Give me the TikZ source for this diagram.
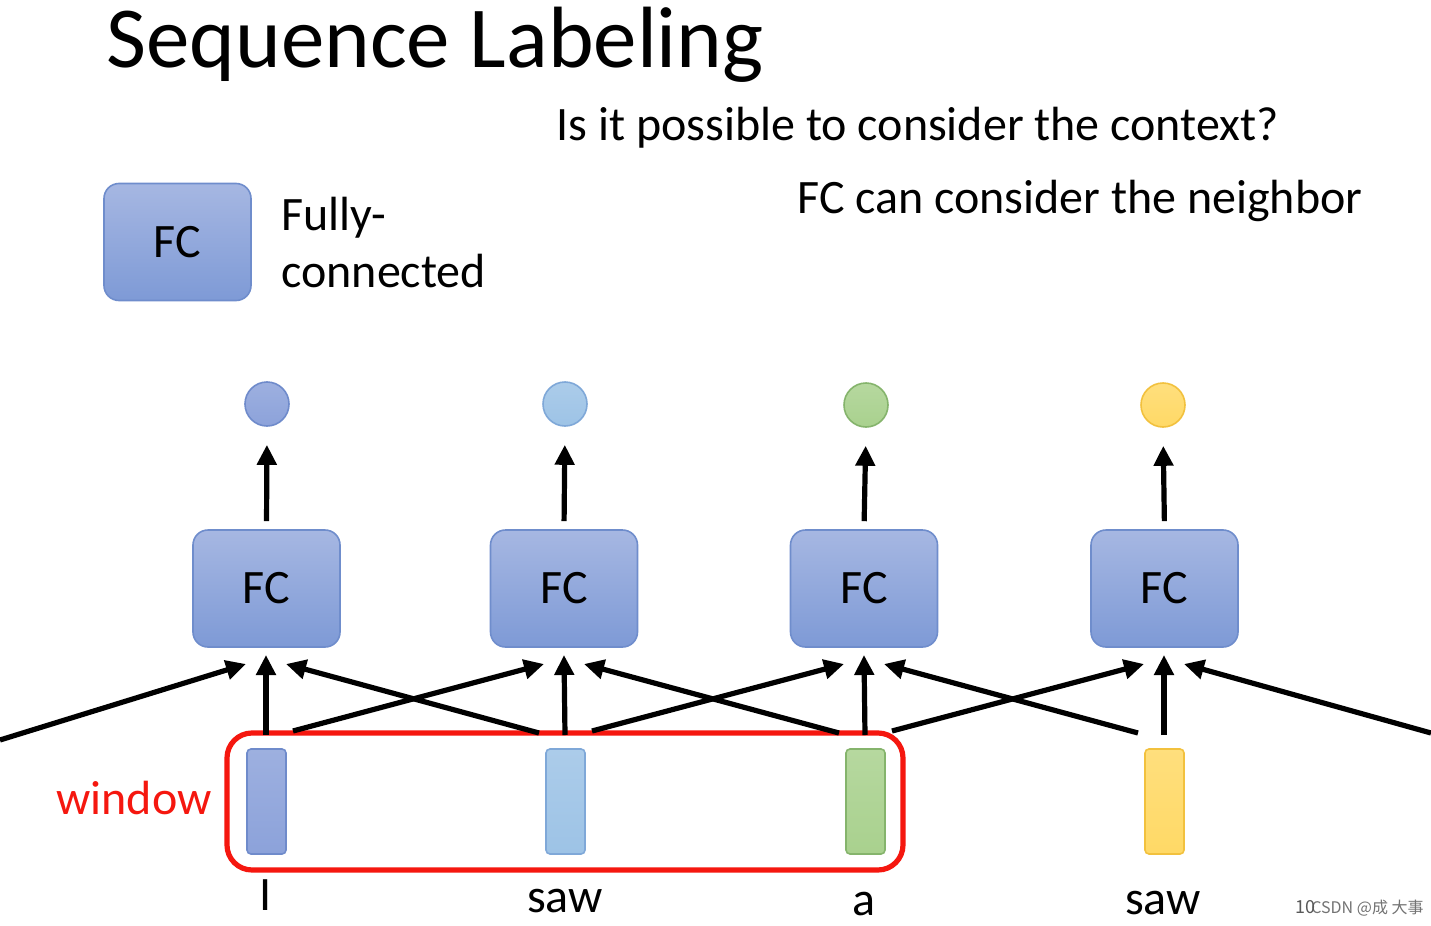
\documentclass[tikz,border=0pt]{standalone}
\usepackage{fontspec}
\setmainfont{Carlito}
\newfontfamily\cjk{Noto Sans CJK SC}
\usetikzlibrary{arrows.meta}
\definecolor{fctop}{HTML}{A6B7E2}
\definecolor{fcbot}{HTML}{7E9AD6}
\definecolor{fcbord}{HTML}{6F8DCC}
\definecolor{cdb}{HTML}{8CA2DA}
\definecolor{cdbb}{HTML}{6F8BCB}
\definecolor{clb}{HTML}{9DC3E6}
\definecolor{clbb}{HTML}{7FA8D8}
\definecolor{cgr}{HTML}{A9D18E}
\definecolor{cgrb}{HTML}{85B46C}
\definecolor{cye}{HTML}{FFD966}
\definecolor{cyeb}{HTML}{F2C13E}
\definecolor{winred}{HTML}{F5170F}
\tikzset{
  big/.style={font=\fontsize{43.5}{52}\selectfont},
  mid/.style={font=\fontsize{24}{29}\selectfont},
  fcbox/.style={draw=fcbord, line width=0.8pt, top color=fctop, bottom color=fcbot,
     rounded corners=7.5pt, minimum width=73.5pt, minimum height=58.5pt, inner sep=0pt,
     font=\fontsize{24}{29}\selectfont},
  outc/.style={circle, line width=0.8pt, minimum size=22pt, inner sep=0pt},
  vec/.style={rectangle, line width=0.8pt, rounded corners=2pt, minimum width=19.5pt, minimum height=52.5pt, inner sep=0pt},
  arr/.style={line width=2.6pt, -{Triangle[length=10pt,width=9.5pt]}},
  word/.style={anchor=base, inner sep=0pt, font=\fontsize{24}{29}\selectfont},
}
\begin{document}
\begin{tikzpicture}[x=0.5pt,y=-0.5pt]
\useasboundingbox (0,0) rectangle (1431,926);
\clip (0,0) rectangle (1431,926);
\fill[white] (0,0) rectangle (1431,926);

% title and texts
\node[big, anchor=base west, inner sep=0pt] (title) at (106,67) {Sequence Labeling};
\node[mid, anchor=base west, inner sep=0pt] (q) at (556,140) {Is it possible to consider the context?};
\node[mid, anchor=base west, inner sep=0pt] (nb) at (797,213) {FC can consider the neighbor};
\node[fcbox] (leg) at (177.5,242) {FC};
\node[mid, anchor=base west, inner sep=0pt] (fully) at (281,230) {Fully-};
\node[mid, anchor=base west, inner sep=0pt] (conn) at (281,287) {connected};

% FC blocks
\node[fcbox] (fc1) at (266.5,588.5) {FC};
\node[fcbox] (fc2) at (564,588.5) {FC};
\node[fcbox] (fc3) at (864,588.5) {FC};
\node[fcbox] (fc4) at (1164.5,588.5) {FC};

% outputs
\node[outc, draw=cdbb, top color=cdb!85!white, bottom color=cdb] (o1) at (267,404) {};
\node[outc, draw=clbb, top color=clb!85!white, bottom color=clb] (o2) at (565,404) {};
\node[outc, draw=cgrb, top color=cgr!85!white, bottom color=cgr] (o3) at (866,405) {};
\node[outc, draw=cyeb, top color=cye!85!white, bottom color=cye] (o4) at (1163,405) {};

\foreach \i in {1,...,4}
  \draw[arr, shorten <=4pt, shorten >=9pt] (fc\i.north) -- (o\i.south);

% inputs
\node[vec, draw=cdbb, top color=cdb!85!white, bottom color=cdb] (v1) at (266.5,801.5) {};
\node[vec, draw=clbb, top color=clb!85!white, bottom color=clb] (v2) at (565.5,801.5) {};
\node[vec, draw=cgrb, top color=cgr!85!white, bottom color=cgr] (v3) at (865.5,801.5) {};
\node[vec, draw=cyeb, top color=cye!85!white, bottom color=cye] (v4) at (1164.5,801.5) {};

% window
\node[draw=winred, line width=2.6pt, rounded corners=12.5pt, minimum width=338pt, minimum height=68.5pt, inner sep=0pt] (win) at (565,801.5) {};
\node[word, anchor=base east, text=winred] (wlab) at (212,814) {window};

% words
\node[word] (w1) at (266,910) {I};
\node[word] (w2) at (565,912) {saw};
\node[word] (w3) at (864,915) {a};
\node[word] (w4) at (1163,914) {saw};

% arrow anchor coordinates
\foreach \i/\x in {1/266,2/564,3/864,4/1164}{
  \coordinate (fl\i) at (\x-20,664);
  \coordinate (fr\i) at (\x+20,664);
  \coordinate (fb\i) at (\x,655);
}
\foreach \i/\x in {1/266,2/565,3/865,4/1164}{
  \coordinate (it\i) at (\x,735);
  \coordinate (ir\i) at (\x+27,731);
  \coordinate (il\i) at (\x-26,733);
}
\coordinate (lfree) at (0,740);
\coordinate (rfree) at (1431,733);

\foreach \i in {1,...,4} \draw[arr] (it\i) -- (fb\i);
\draw[arr] (lfree) -- (fl1);
\draw[arr] (il2) -- (fr1);
\draw[arr] (ir1) -- (fl2);
\draw[arr] (il3) -- (fr2);
\draw[arr] (ir2) -- (fl3);
\draw[arr] (il4) -- (fr3);
\draw[arr] (ir3) -- (fl4);
\draw[arr] (rfree) -- (fr4);

% watermark
\node[anchor=base west, inner sep=0pt, text=black!55, font=\cjk\fontsize{8}{10}\selectfont] (wm) at (1311,913) {CSDN @成 大事};
\node[anchor=base west, inner sep=0pt, text=black!65, font=\cjk\fontsize{9}{10}\selectfont] (pg) at (1295,913) {10};
\end{tikzpicture}
\end{document}
